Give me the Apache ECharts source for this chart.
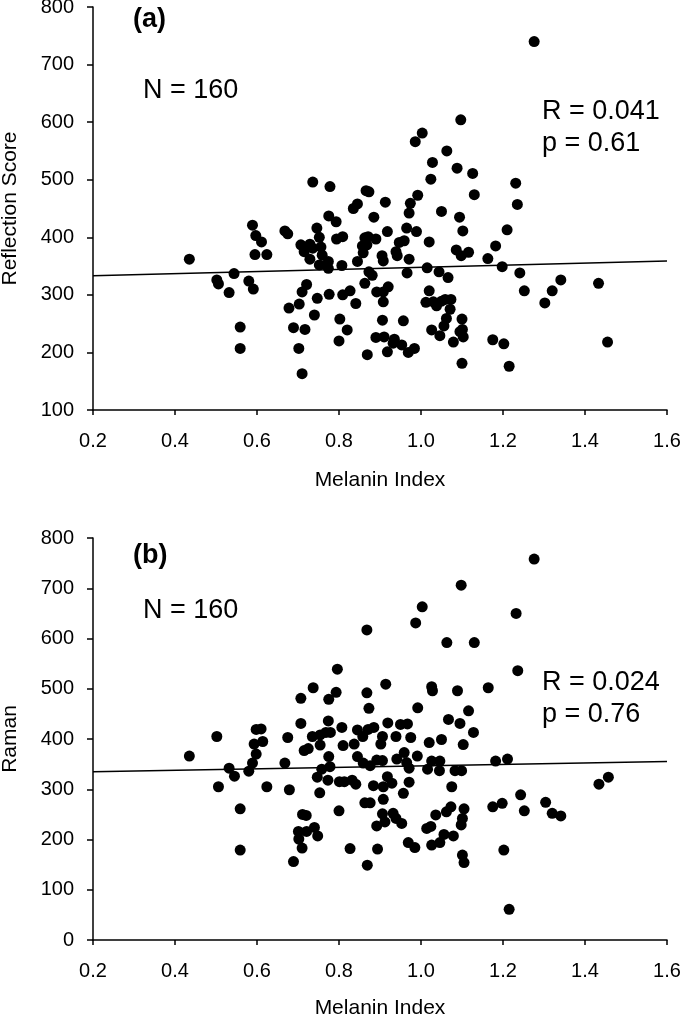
<!DOCTYPE html>
<html>
<head>
<meta charset="utf-8">
<script src="https://cdn.jsdelivr.net/npm/echarts@6/dist/echarts.min.js"></script>
<style>
html,body{margin:0;padding:0;background:#fff;}
#chart{width:682px;height:1020px;}
</style>
</head>
<body>
<div id="chart"></div>
<script>
// Panel (a): Melanin Index vs Reflection Score
const melaninA = [
0.435,0.589,0.597,0.611,0.595,0.624,0.544,0.502,0.506,0.532,0.580,0.591,0.559,0.559,0.668,0.675,0.707,0.715,0.729,0.736,
0.729,0.736,0.778,0.746,0.752,0.756,0.759,0.752,0.774,0.774,0.775,0.793,0.794,0.809,0.807,0.721,0.710,0.703,0.678,0.747,
0.776,0.740,0.689,0.717,0.702,0.710,0.809,0.827,0.841,0.802,0.820,0.800,0.835,0.845,0.866,0.873,0.885,0.913,0.863,0.871,
0.890,0.857,0.859,0.868,0.845,0.905,0.908,0.918,0.873,0.881,0.863,0.892,0.908,0.908,0.906,0.890,0.910,0.869,0.918,0.920,
1.097,1.003,0.986,1.063,1.028,1.088,1.126,1.024,1.231,1.130,1.235,0.992,0.974,0.971,1.050,1.094,1.102,1.210,0.965,0.989,
1.020,0.947,0.959,0.939,0.942,0.971,1.086,1.098,1.116,1.163,1.182,1.015,1.044,1.066,0.966,1.198,1.241,1.252,1.341,1.320,
1.302,1.433,1.455,1.020,1.012,1.030,1.038,1.050,1.059,1.073,1.071,0.957,1.062,1.056,1.100,1.026,1.046,1.101,1.095,1.103,
1.079,0.935,0.932,0.953,0.969,0.984,1.175,1.202,1.100,1.215,1.276
];
const reflection = [
362,421,403,392,370,370,337,326,319,304,324,310,244,207,411,406,387,375,388,381,
362,496,488,416,400,383,369,352,358,346,437,427,397,401,351,318,305,284,277,294,
301,265,243,240,207,163,300,307,285,258,239,220,450,458,481,479,435,461,399,401,
397,385,373,387,358,368,359,410,340,334,320,305,305,288,256,226,227,196,201,314,
604,581,566,550,530,520,511,501,494,474,457,473,459,442,445,435,411,413,416,410,
392,391,394,375,368,362,378,368,374,363,385,347,340,330,338,349,338,307,326,307,
286,320,218,307,287,288,281,289,292,292,275,255,259,246,258,239,229,240,236,227,
218,223,216,213,200,207,222,215,181,176,740
];
const fitA = [[0.2, 333], [1.6, 359]];

// Panel (b): Melanin Index vs Raman
const melaninB = [
0.435,0.502,0.506,0.532,0.545,0.559,0.559,0.580,0.589,0.598,0.593,0.598,0.610,0.614,0.624,0.668,0.675,0.679,0.707,0.707,
0.715,0.725,0.735,0.737,0.754,0.754,0.768,0.779,0.775,0.793,0.796,0.774,0.775,0.778,0.758,0.747,0.773,0.753,0.807,0.810,
0.801,0.813,0.800,0.711,0.720,0.701,0.721,0.740,0.702,0.748,0.710,0.689,0.827,0.832,0.841,0.837,0.845,0.858,0.871,0.885,
0.845,0.859,0.868,0.868,0.873,0.914,0.919,0.906,0.902,0.876,0.892,0.906,0.884,0.908,0.918,0.908,0.863,0.876,0.906,0.912,
0.892,0.894,0.869,
1.276,1.098,1.003,0.987,1.232,1.063,1.130,1.236,1.026,1.028,1.089,1.164,0.992,1.116,0.950,0.967,1.067,1.095,1.128,0.939,
0.975,1.020,1.050,1.103,0.959,0.991,0.941,0.965,0.971,1.026,1.046,1.016,1.045,1.083,1.099,1.182,1.211,0.929,0.971,0.957,
1.075,0.932,0.939,0.953,0.969,0.985,1.014,1.024,1.026,1.046,1.056,1.079,1.036,1.062,1.073,1.105,1.101,1.098,1.175,1.198,
1.243,1.252,1.304,1.320,1.341,1.434,1.457,1.202,1.101,1.105,1.215
];
const raman = [
366,405,305,342,326,261,179,336,352,370,390,419,420,395,305,352,403,299,481,431,
377,381,405,502,408,388,413,413,479,493,539,436,365,345,340,324,318,293,423,387,
315,315,257,250,248,216,216,224,201,207,183,156,182,318,310,390,418,405,419,423,
365,352,617,492,461,509,432,405,390,347,358,357,307,305,325,280,273,273,251,235,
227,181,149,
758,706,663,631,650,592,592,536,504,496,496,502,462,456,429,430,439,431,413,405,
403,393,399,389,373,366,360,353,342,356,356,340,337,337,337,356,360,312,314,292,
305,252,242,232,194,184,222,226,189,194,210,207,249,255,265,261,242,229,265,272,
289,257,274,252,247,310,324,179,169,154,61
];
const fitB = [[0.2, 335], [1.6, 355]];

const xTicks = {min: 0.2, max: 1.6, interval: 0.2};
const yTicksA = {min: 100, max: 800, interval: 100};
const yTicksB = {min: 0, max: 800, interval: 100};
const labelsA = ['(a)', 'N = 160', 'R = 0.041', 'p = 0.61'];
const labelsB = ['(b)', 'N = 160', 'R = 0.024', 'p = 0.76'];
const xName = 'Melanin Index';
const yNameA = 'Reflection Score';
const yNameB = 'Raman';

const FONT = '"Liberation Sans", Arial, sans-serif';
const zip = (xs, ys) => xs.map((x, i) => [x, ys[i]]);

function xAxis(gridIndex, gap) {
  return {
    type: 'value', gridIndex, min: xTicks.min, max: xTicks.max, interval: xTicks.interval,
    name: xName, nameLocation: 'middle', nameGap: gap,
    nameTextStyle: {color: '#000', fontSize: 21, fontFamily: FONT},
    axisLine: {show: true, onZero: false, lineStyle: {color: '#000', width: 1.5}},
    axisTick: {show: true, inside: false, length: 5, lineStyle: {color: '#000', width: 1.5}},
    axisLabel: {color: '#000', fontSize: 20, fontFamily: FONT, margin: 21,
      formatter: v => v.toFixed(1)},
    splitLine: {show: false}
  };
}
function yAxis(gridIndex, t, name, gap) {
  return {
    type: 'value', gridIndex, min: t.min, max: t.max, interval: t.interval,
    name, nameLocation: 'middle', nameGap: gap, nameRotate: 90,
    nameTextStyle: {color: '#000', fontSize: 21, fontFamily: FONT},
    axisLine: {show: true, onZero: false, lineStyle: {color: '#000', width: 1.5}},
    axisTick: {show: true, inside: false, length: 6, lineStyle: {color: '#000', width: 1.5}},
    axisLabel: {color: '#000', fontSize: 20, fontFamily: FONT, margin: 19},
    splitLine: {show: false}
  };
}
function txt(x, y, s, bold) {
  return {type: 'text', x: x, y: y, z: 10,
    style: {text: s, fill: '#000', font: (bold ? 'bold ' : '') + '27px ' + FONT, verticalAlign: 'middle'}};
}

const chart = echarts.init(document.getElementById('chart'), null, {renderer: 'canvas'});
chart.setOption({
  animation: false,
  backgroundColor: '#fff',
  grid: [
    {left: 93, top: 7, width: 574, height: 403, containLabel: false, outerBoundsMode: 'none'},
    {left: 93, top: 538, width: 574, height: 402, containLabel: false, outerBoundsMode: 'none'}
  ],
  xAxis: [xAxis(0, 60), xAxis(1, 58)],
  yAxis: [yAxis(0, yTicksA, yNameA, 72), yAxis(1, yTicksB, yNameB, 72)],
  graphic: [
    txt(133, 20, labelsA[0], true),
    txt(143, 91, labelsA[1], false),
    txt(542, 112, labelsA[2], false),
    txt(542, 144, labelsA[3], false),
    txt(133, 556, labelsB[0], true),
    txt(143, 611, labelsB[1], false),
    txt(542, 683, labelsB[2], false),
    txt(542, 715, labelsB[3], false)
  ],
  series: [
    {type: 'scatter', xAxisIndex: 0, yAxisIndex: 0, data: zip(melaninA, reflection),
      symbol: 'circle', symbolSize: 11, itemStyle: {color: '#000', opacity: 1}, z: 3},
    {type: 'line', xAxisIndex: 0, yAxisIndex: 0, data: fitA, symbol: 'none',
      lineStyle: {color: '#000', width: 1.5}, z: 2},
    {type: 'scatter', xAxisIndex: 1, yAxisIndex: 1, data: zip(melaninB, raman),
      symbol: 'circle', symbolSize: 11, itemStyle: {color: '#000', opacity: 1}, z: 3},
    {type: 'line', xAxisIndex: 1, yAxisIndex: 1, data: fitB, symbol: 'none',
      lineStyle: {color: '#000', width: 1.5}, z: 2}
  ]
});
</script>
</body>
</html>
